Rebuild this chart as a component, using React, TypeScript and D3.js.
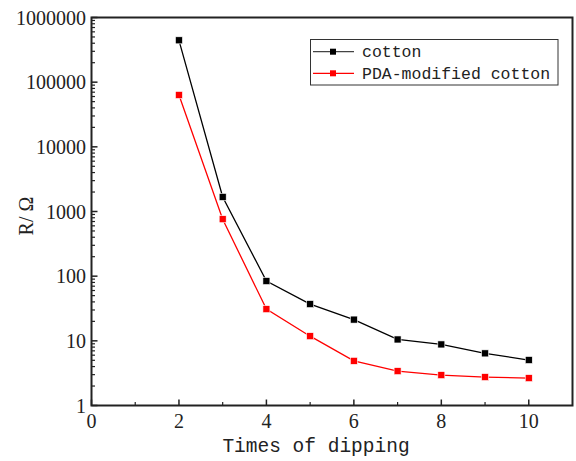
import React from "react";
import * as d3 from "d3";

const dips = [2, 3, 4, 5, 6, 7, 8, 9, 10];
const cotton = [444000, 1680, 84, 37, 21.3, 10.5, 8.8, 6.4, 5.05];
const pdaCotton = [63400, 760, 30.9, 11.8, 4.9, 3.4, 2.95, 2.75, 2.65];
const xTicks = [0, 2, 4, 6, 8, 10];
const xMinor = [1, 3, 5, 7, 9];
const yTicks = [1, 10, 100, 1000, 10000, 100000, 1000000];
const seriesNames = ["cotton", "PDA-modified cotton"];
const seriesColors = ["#000000", "#ff0000"];

export default function App() {
  const W = 576, H = 461;
  const L = 91.5, R = 572.5, T = 17.5, B = 405.5;
  const x = d3.scaleLinear().domain([0, 11]).range([L, R]);
  const y = d3.scaleLog().domain([1, 1000000]).range([B, T]);
  const line = d3.line<[number, number]>().x(d => x(d[0])).y(d => y(d[1]));
  const minorY: number[] = [];
  for (let p = 0; p < 6; p++) for (let k = 2; k <= 9; k++) minorY.push(k * Math.pow(10, p));
  const serif = "'Liberation Serif', 'DejaVu Serif', serif";
  const mono = "'Liberation Mono', 'DejaVu Sans Mono', monospace";
  const data = [cotton, pdaCotton];
  return (
    <svg width={W} height={H} style={{ position: "absolute", left: 0, top: 0, background: "#fff" }}>
      {data.map((vals, si) => (
        <g key={si}>
          <path d={line(dips.map((d, i) => [d, vals[i]]) as [number, number][]) || ""} fill="none" stroke={seriesColors[si]} strokeWidth={1.3} />
          {dips.map((d, i) => (
            <rect key={i} x={x(d) - 3.5} y={y(vals[i]) - 3.5} width={7} height={7} fill={seriesColors[si]} stroke="#fff" strokeWidth={0.6} />
          ))}
        </g>
      ))}
      {/* y ticks */}
      {yTicks.map(t => (
        <g key={t}>
          <line x1={L} x2={L + 6} y1={y(t)} y2={y(t)} stroke="#222" strokeWidth={1.5} />
          <text x={86} y={y(t) + 7} textAnchor="end" fontFamily={serif} fontSize={20} fill="#222">{t}</text>
        </g>
      ))}
      {minorY.map(t => (
        <line key={t} x1={L} x2={L + 3.5} y1={y(t)} y2={y(t)} stroke="#222" strokeWidth={1.2} />
      ))}
      {xTicks.map(t => (
        <g key={t}>
          <line x1={x(t)} x2={x(t)} y1={B} y2={B - 6} stroke="#222" strokeWidth={1.5} />
          <text x={x(t)} y={428} textAnchor="middle" fontFamily={serif} fontSize={20} fill="#222">{t}</text>
        </g>
      ))}
      {xMinor.map(t => (
        <line key={t} x1={x(t)} x2={x(t)} y1={B} y2={B - 3.5} stroke="#222" strokeWidth={1.2} />
      ))}
      <rect x={L} y={T} width={R - L} height={B - T} fill="none" stroke="#222" strokeWidth={2} />
      <text x={316} y={452} textAnchor="middle" fontFamily={mono} fontSize={19.5} fill="#222">Times of dipping</text>
      <text transform={`translate(33,216) rotate(-90)`} textAnchor="middle" fontFamily={serif} fontSize={20} fill="#222">R/ Ω</text>
      {/* legend */}
      <rect x={310.5} y={39.5} width={247.5} height={45.5} fill="#fff" stroke="#333" strokeWidth={1} />
      {seriesNames.map((n, i) => {
        const ly = 51.7 + i * 21.6;
        return (
          <g key={n}>
            <line x1={313} x2={354} y1={ly} y2={ly} stroke={i === 0 ? "#444" : "#ff0000"} strokeWidth={1.2} />
            <rect x={330} y={ly - 3} width={6} height={6} fill={seriesColors[i]} />
            <text x={362} y={ly + 5.5} fontFamily={mono} fontSize={16.5} fill="#222">{n}</text>
          </g>
        );
      })}
    </svg>
  );
}
